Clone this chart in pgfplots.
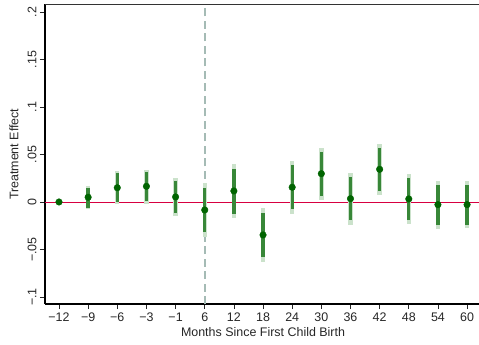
\documentclass[border=0pt]{standalone}
\usepackage{pgfplots}
\pgfplotsset{compat=1.18}
\usepackage{pgfplotstable}
\usepackage{fontspec}
\setmainfont{Liberation Sans}
\definecolor{dotgreen}{RGB}{0,100,0}
\definecolor{cidark}{RGB}{56,135,56}
\definecolor{cilight}{RGB}{203,226,203}
\definecolor{redline}{RGB}{215,0,65}
\definecolor{vline}{RGB}{165,187,181}
\pgfplotstableread{
x y dlo dhi llo lhi
0 0 0 0 0 0
1 0.005 -0.006 0.015 -0.007 0.017
2 0.015 0.000 0.030 -0.0025 0.0326
3 0.0165 0.0007 0.032 -0.002 0.034
4 0.0053 -0.012 0.0224 -0.015 0.025
5 -0.0084 -0.032 0.015 -0.037 0.0197
6 0.0116 -0.0123 0.035 -0.0168 0.040
7 -0.0347 -0.058 -0.0113 -0.063 -0.0067
8 0.0155 -0.0077 0.0386 -0.0123 0.043
9 0.0298 0.0067 0.0526 0.002 0.057
10 0.0035 -0.019 0.026 -0.024 0.031
11 0.0344 0.0119 0.0565 0.0074 0.061
12 0.0032 -0.0186 0.025 -0.023 0.0295
13 -0.0028 -0.0242 0.0179 -0.0288 0.0224
14 -0.0028 -0.024 0.018 -0.027 0.0224
}\est
\begin{document}
\begin{tikzpicture}
\useasboundingbox (-45bp,-41bp) rectangle (434bp,304bp);
\begin{axis}[
  at={(0,0)}, anchor=south west,
  scale only axis, width=435.2bp, height=299.5bp,
  xmin=-0.48, xmax=14.45, ymin=-0.1074, ymax=0.2079,
  axis lines*=left,
  axis line style={-, line width=1.3bp, black},
  tick style={black!85, line width=0.7bp},
  tick align=outside, major tick length=5bp,
  xtick={0,...,14},
  xticklabels={−12,−9,−6,−3,−1,6,12,18,24,30,36,42,48,54,60},
  ytick={-0.1,-0.05,0,0.05,0.1,0.15,0.2},
  yticklabels={−.1,−.05,0,.05,.1,.15,.2},
  ticklabel style={font=\fontsize{12.5}{14}\selectfont, text=black!85},
  yticklabel style={rotate=90, anchor=south},
  xlabel={Months Since First Child Birth},
  ylabel={Treatment Effect},
  label style={font=\fontsize{12.5}{14}\selectfont, text=black!85},
  xlabel style={at={(axis description cs:0.501,0)}, anchor=center, yshift=-28bp},
  ylabel style={at={(axis description cs:0,0.5)}, anchor=center, rotate=0, yshift=31bp},
  clip=false,
]
\draw[black!80, line width=0.9bp] (rel axis cs:0,1) -- (rel axis cs:1,1);
\addplot[vline, line width=1.9bp, dash pattern=on 8bp off 4.5bp] coordinates {(5,-0.1074) (5,0.2079)};
\addplot[draw=redline, line width=0.9bp, mark=none] coordinates {(-0.48,0) (14.45,0)};
\addplot[draw=none, mark=none, forget plot,
  error bars/.cd, y dir=both, y explicit,
  error mark=none, error bar style={cilight, line width=4.4bp}]
  table[x=x, y=y, y error plus expr=\thisrow{lhi}-\thisrow{y}, y error minus expr=\thisrow{y}-\thisrow{llo}] {\est};
\addplot[draw=none, mark=none, forget plot,
  error bars/.cd, y dir=both, y explicit,
  error mark=none, error bar style={cidark, line width=3.3bp}]
  table[x=x, y=y, y error plus expr=\thisrow{dhi}-\thisrow{y}, y error minus expr=\thisrow{y}-\thisrow{dlo}] {\est};
\addplot[only marks, mark=*, mark size=3.3bp, mark options={fill=dotgreen, draw=dotgreen}] table[x=x, y=y] {\est};
\end{axis}
\end{tikzpicture}
\end{document}
